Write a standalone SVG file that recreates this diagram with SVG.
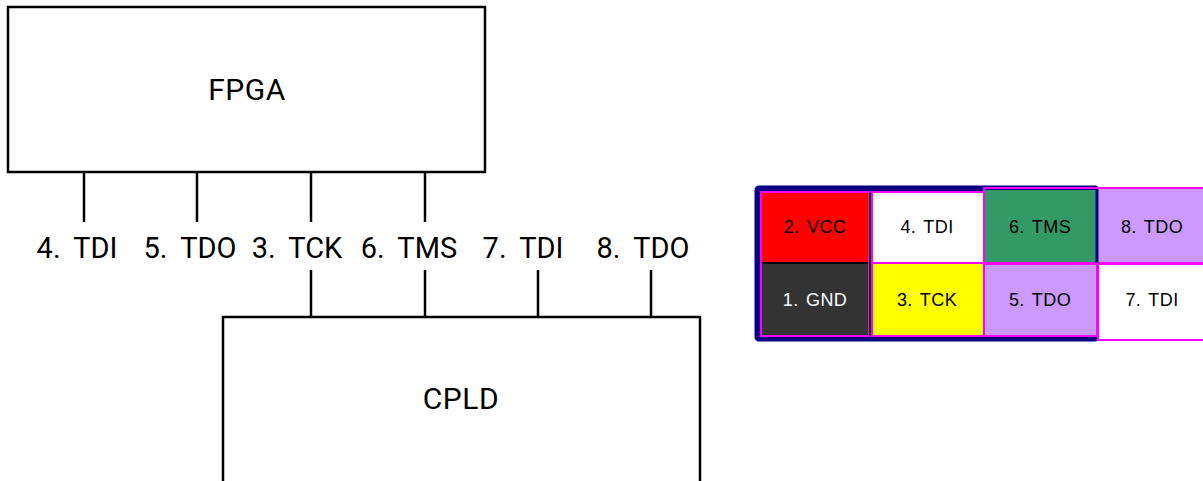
<svg xmlns="http://www.w3.org/2000/svg" width="1203" height="481" viewBox="0 0 1203 481">
<style>
.box{fill:#fff;stroke:#000;stroke-width:2.5}
.pin{stroke:#000;stroke-width:2.5;fill:none}
.lbl{font-family:Roboto,"Liberation Sans",sans-serif;font-size:29px;fill:#000;text-anchor:middle;word-spacing:6px}
.name{font-family:Roboto,"Liberation Sans",sans-serif;font-size:30px;fill:#000;text-anchor:middle;letter-spacing:0.5px}
.cell{font-family:"Liberation Sans",Arial,sans-serif;font-size:18px;fill:#000;text-anchor:middle;letter-spacing:0.4px;word-spacing:2px}
.mag{fill:none;stroke:#ff00ff;stroke-width:2}
.blk{stroke:#000;stroke-width:2;fill:none}
</style>
<rect width="1203" height="481" fill="#fff"/>
<g id="fpga">
<rect class="box" x="8" y="7" width="477" height="165"/>
<text class="name" x="247" y="100">FPGA</text>
</g>
<g id="cpld">
<rect class="box" x="223" y="317" width="477" height="200"/>
<text class="name" x="461" y="409">CPLD</text>
</g>
<g id="connectors">
<line class="pin" x1="84" y1="172" x2="84" y2="222"/>
<line class="pin" x1="197" y1="172" x2="197" y2="222"/>
<line class="pin" x1="311" y1="172" x2="311" y2="222"/>
<line class="pin" x1="425" y1="172" x2="425" y2="222"/>
<line class="pin" x1="311" y1="270" x2="311" y2="317"/>
<line class="pin" x1="425" y1="270" x2="425" y2="317"/>
<line class="pin" x1="538" y1="270" x2="538" y2="317"/>
<line class="pin" x1="651" y1="270" x2="651" y2="317"/>
</g>
<g id="pin-labels">
<text class="lbl" x="77" y="258">4. TDI</text>
<text class="lbl" x="190" y="258">5. TDO</text>
<text class="lbl" x="297" y="258">3. TCK</text>
<text class="lbl" x="409" y="258">6. TMS</text>
<text class="lbl" x="523" y="258">7. TDI</text>
<text class="lbl" x="643" y="258">8. TDO</text>
</g>
<g id="header">
<rect x="757" y="188" width="340" height="151" rx="2" fill="#000080" stroke="#000080" stroke-width="5"/>
<rect x="761" y="192" width="109" height="71" fill="#ff0000"/>
<rect x="871" y="192" width="113" height="71" fill="#fff"/>
<rect x="984" y="190" width="112" height="73" fill="#339966"/>
<rect x="1098" y="188" width="110" height="75" fill="#cc99ff"/>
<rect x="761" y="263" width="109" height="73" fill="#333333"/>
<rect x="871" y="263" width="113" height="73" fill="#ffff00"/>
<rect x="984" y="263" width="113" height="73" fill="#cc99ff"/>
<rect x="1098" y="263" width="110" height="77" fill="#fff"/>
<line class="blk" x1="870" y1="192" x2="870" y2="336"/>
<line class="blk" x1="761" y1="263" x2="870" y2="263"/>
<line class="blk" x1="1098" y1="263" x2="1203" y2="263"/>
<rect class="mag" x="761" y="192" width="108" height="144"/>
<rect class="mag" x="872" y="192" width="112" height="71"/>
<rect class="mag" x="872" y="263" width="112" height="73"/>
<rect class="mag" x="984" y="188" width="230" height="75"/>
<rect class="mag" x="984" y="264" width="113" height="72"/>
<rect class="mag" x="1098" y="264" width="120" height="76"/>
<line class="blk" x1="870" y1="193" x2="870" y2="335"/>
<line x1="1097" y1="189" x2="1097" y2="263" stroke="#000080" stroke-width="3"/>
<text class="cell" x="815" y="233">2. VCC</text>
<text class="cell" x="927" y="233">4. TDI</text>
<text class="cell" x="1040" y="233">6. TMS</text>
<text class="cell" x="1152" y="233">8. TDO</text>
<text class="cell" x="815" y="306" style="fill:#fff">1. GND</text>
<text class="cell" x="927" y="306">3. TCK</text>
<text class="cell" x="1040" y="306">5. TDO</text>
<text class="cell" x="1152" y="306">7. TDI</text>
</g>
</svg>
